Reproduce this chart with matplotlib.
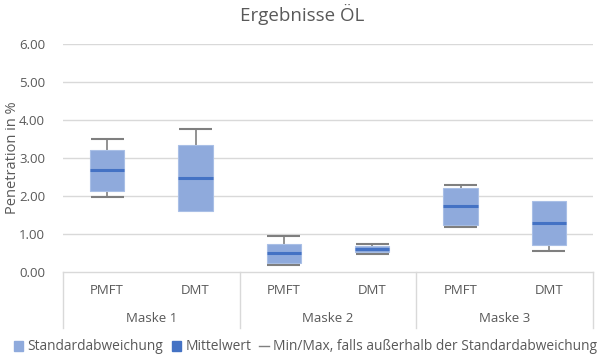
import numpy as np
import matplotlib
matplotlib.use("Agg")
import matplotlib.pyplot as plt
from matplotlib.lines import Line2D
from matplotlib.patches import Patch


# ─── DATA ───

masks = ["Maske 1", "Maske 2", "Maske 3"]
methods = ["PMFT", "DMT"]

# order: Maske 1 PMFT, Maske 1 DMT, Maske 2 PMFT, ...
std_low = [2.14, 1.61, 0.25, 0.52, 1.25, 0.71]
std_high = [3.21, 3.34, 0.75, 0.68, 2.20, 1.88]
mean_val = [2.68, 2.47, 0.51, 0.60, 1.74, 1.30]
min_val = [1.98, np.nan, 0.19, 0.47, 1.18, 0.56]
max_val = [3.50, 3.76, 0.95, 0.73, 2.30, np.nan]

y_ticks = [0, 1, 2, 3, 4, 5, 6]


# ─── STYLE ───

FILL = "#8FAADC"
MEAN = "#4472C4"
WHISKER = "#7F7F7F"
GRID = "#D9D9D9"
TEXT = "#595959"
BOX_W = 0.39

plt.rcParams["font.family"] = ["Open Sans", "DejaVu Sans"]


# ─── FIGURE ───

fig = plt.figure(figsize=(6.05, 3.63), dpi=100)
ax = fig.add_axes([63 / 605, 1 - 272 / 363, 530 / 605, 228 / 363])

x = np.arange(len(mean_val)) + 0.5

for yv in y_ticks[1:]:
    ax.axhline(yv, color=GRID, linewidth=1, zorder=0)

# std boxes
ax.bar(x, np.array(std_high) - np.array(std_low), bottom=std_low,
       width=BOX_W, color=FILL, edgecolor="#A9BFE6", linewidth=0.8, zorder=2)

# whiskers (only where outside the std band)
for xi, lo, hi, mn, mx in zip(x, std_low, std_high, min_val, max_val):
    if not np.isnan(mx):
        ax.vlines(xi, hi, mx, color=WHISKER, linewidth=1.2, zorder=1)
        ax.hlines(mx, xi - BOX_W / 2 * 0.95, xi + BOX_W / 2 * 0.95, color=WHISKER, linewidth=1.5, zorder=3)
    if not np.isnan(mn):
        ax.vlines(xi, mn, lo, color=WHISKER, linewidth=1.2, zorder=1)
        ax.hlines(mn, xi - BOX_W / 2 * 0.95, xi + BOX_W / 2 * 0.95, color=WHISKER, linewidth=1.5, zorder=3)

# mean lines
ax.hlines(mean_val, x - BOX_W / 2, x + BOX_W / 2, color=MEAN, linewidth=2.2, zorder=4)

ax.set_xlim(0, len(mean_val))
ax.set_ylim(0, 6)
ax.set_yticks(y_ticks)
ax.set_yticklabels([f"{v:.2f}" for v in y_ticks], color=TEXT, fontsize=9.5)
ax.tick_params(axis="y", length=0, pad=13)
ax.set_xticks([])
for s in ax.spines.values():
    s.set_visible(False)

fig.text(13 / 605, 1 - 158 / 363, "Penetration in %", rotation=90, ha="center", va="center",
         color=TEXT, fontsize=10.5)
fig.suptitle("Ergebnisse ÖL", color=TEXT, fontsize=13.5, y=0.99)

# category axis: frame lines and two-level labels
trans = ax.get_xaxis_transform()
ax.plot([0, len(mean_val)], [0, 0], color=GRID, linewidth=1, transform=trans, clip_on=False)
for xb in range(0, len(mean_val) + 1, 2):
    ax.plot([xb, xb], [0, -0.245], color=GRID, linewidth=1, transform=trans, clip_on=False)

for i, xi in enumerate(x):
    ax.text(xi, -0.08, methods[i % 2], transform=trans, ha="center", va="center",
            color=TEXT, fontsize=9.5)
for j, m in enumerate(masks):
    ax.text(2 * j + 1, -0.205, m, transform=trans, ha="center", va="center",
            color=TEXT, fontsize=9.5)

# legend
handles = [
    Patch(facecolor=FILL, edgecolor=FILL, label="Standardabweichung"),
    Patch(facecolor=MEAN, edgecolor=MEAN, label="Mittelwert"),
    Line2D([], [], color=WHISKER, linewidth=1, label="Min/Max, falls außerhalb der Standardabweichung"),
]
leg = fig.legend(handles=handles, loc="center", bbox_to_anchor=(0.505, 1 - 347 / 363), ncol=3,
                 frameon=False, fontsize=9.9, handlelength=0.7, handleheight=0.7,
                 handletextpad=0.3, columnspacing=0.6)
for t in leg.get_texts():
    t.set_color(TEXT)

fig.savefig("out.png", dpi=100)
